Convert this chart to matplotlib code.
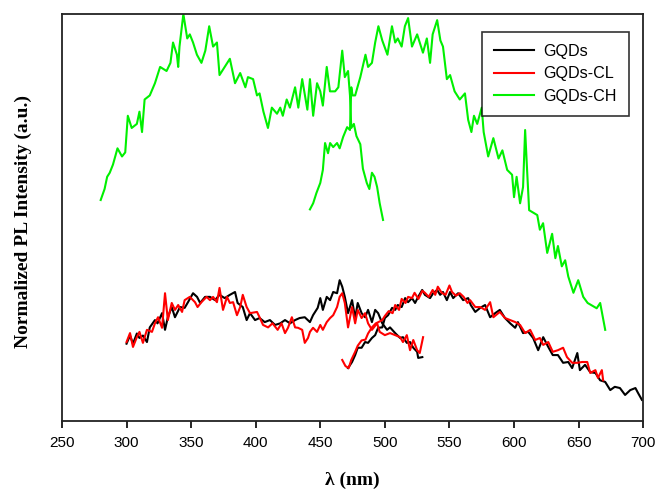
import matplotlib
matplotlib.use("Agg")
import matplotlib.pyplot as plt

# PL spectra, (wavelength nm, normalized intensity)
# each sample has an excitation branch (ex) and an emission branch (em)
gqds_ex = [
    (300, 19), (302.7, 21), (305, 19), (308, 21.5), (310, 20.4), (312.7, 21),
    (315.8, 19.4), (318, 23), (322, 24.8), (324, 24), (327.5, 26.5), (329.8, 22.4),
    (332, 25.5), (335, 28), (337.5, 25.5), (341.4, 28), (345, 27.8), (347.6, 29.2),
    (351.5, 31.4), (354.6, 30.5), (357, 29), (360.8, 30.5), (364.6, 30.5),
    (368.5, 29.7), (372, 31), (376, 30.2), (380, 31), (384, 31.7), (386, 29),
    (390, 28), (393, 24.8), (395.6, 26.5), (399.5, 24.8), (403, 25.3), (407, 24.3),
    (411, 24.8), (415, 23.6), (419, 24), (422.7, 24.8), (426.6, 24), (430.5, 24.8),
    (434, 25.3), (438, 25.5), (442, 24.3), (444.4, 26), (448, 27.8), (450, 30.2),
    (452, 27.3), (455, 30.5), (457.6, 29.7), (460, 31.7), (463, 31.4), (465, 34.6),
    (467, 33), (469, 30.5), (471.5, 26.5), (474.6, 29.7), (477, 25.3), (479, 29),
    (482, 26.5), (484.7, 25.5), (487, 27.3), (490, 24.3), (492.5, 27.3),
    (494.8, 26.5), (498, 24), (501.7, 22.4), (504, 23), (508, 21.6), (511.8, 20.4),
    (514, 20.6), (517, 19.2), (519.5, 19.4), (522, 18), (525, 17), (525.8, 15.5),
    (529, 15.7),
]
gqds_em = [
    (471.5, 13), (474.6, 14.5), (477, 16.2), (479, 18), (482, 18), (484.7, 19.4),
    (487, 19.2), (490, 20.4), (492.5, 21.1), (494.8, 22.9), (498, 23), (500, 25.3),
    (502.5, 26), (505.6, 27.8), (508, 27.3), (510, 28.5), (513, 28), (515.7, 30.2),
    (518, 29.2), (521, 30.2), (523.4, 29), (525.8, 30.5), (528.9, 32.2), (531, 31),
    (535, 30.2), (537.4, 31.4), (540.5, 32.2), (542.8, 31), (545, 31.7), (548, 29.7),
    (550.5, 31.7), (552.9, 30.2), (556.7, 31.4), (560.6, 29.7), (564.5, 30.2),
    (566.5, 28.5), (570, 26.8), (573.8, 27.8), (577.6, 28.5), (581.5, 25.5),
    (585.4, 26.5), (589, 27.3), (593, 25.3), (597, 24), (600.9, 22.9), (603, 24.3),
    (607, 21.6), (611, 21.9), (614.8, 20.4), (618.7, 17.4), (622.6, 20.6),
    (626.5, 18.2), (630, 16.2), (634, 16.2), (638, 14.3), (642, 14.5), (645, 13),
    (649, 16.7), (651, 12.5), (655, 13.8), (659, 12), (663, 11.8), (666.7, 10),
    (670.6, 9.6), (674.5, 7.6), (678, 8.4), (682, 8.1), (686, 6.4), (690, 7.6),
    (694, 8.1), (696, 6.9), (699, 5.2),
]
gqds_cl_ex = [
    (300, 19.4), (302.7, 21.6), (305, 18.2), (308, 20.6), (310, 21.9), (312.7, 19.2),
    (315.8, 22.4), (319.7, 21.9), (322, 24), (324.4, 25.5), (327.5, 22.9),
    (329.8, 31.4), (332, 24.8), (335, 29), (337.5, 27.3), (340, 28.5), (343, 26.8),
    (345, 29.7), (349, 30.5), (353, 29.2), (355, 28), (358, 29.2), (362, 30.5),
    (364.6, 29.7), (367, 30.5), (370, 29.2), (372, 32.7), (374.7, 27.3),
    (377.8, 30.5), (380, 29), (382.5, 29.2), (385.5, 26), (388, 28), (390, 31),
    (393, 28), (395.6, 26.5), (401, 26.8), (403, 25.5), (405.7, 23.6), (409.6, 23),
    (413, 24), (417, 22.4), (420, 24), (422.7, 21.6), (425, 22.9), (428, 25.5),
    (430.5, 23), (432.8, 22.9), (436, 22.4), (438, 19.2), (440.5, 20.4), (442, 21.9),
    (444.4, 22.9), (447.5, 21.9), (450, 23.6), (452, 22.4), (455, 24.3),
    (457.6, 25.3), (460, 26), (463, 28), (465, 30.5), (467, 31.4), (469, 29),
    (471.5, 23), (474.6, 28), (477, 24), (479, 27.3), (482, 25.3), (484.7, 26.5),
    (487, 24), (490, 22.4), (494, 24), (496, 21.9), (500, 21.1), (504, 21.6),
    (508, 21.1), (511.8, 20.6), (514, 19.4), (517, 21.1), (519.5, 17.4), (522, 19.9),
    (525, 17.4), (527, 16.7), (529.6, 20.6),
]
gqds_cl_em = [
    (467, 15), (469.5, 13.5), (472, 13), (474, 15), (477, 17), (479, 18.5),
    (482, 19.8), (485, 20), (487, 21.5), (490, 23), (493, 24), (495, 24.3),
    (498, 24.8), (500, 25.8), (503, 27), (506, 26.5), (508, 28.5), (511, 27.3),
    (513, 30), (516, 29), (518, 30.5), (521, 30.2), (523, 31.5), (526, 30),
    (529, 32), (531, 31.5), (534, 30.5), (537, 32.2), (539, 31), (541, 33),
    (544, 31.5), (547, 31), (550, 33.3), (552, 31.7), (555, 30.8), (558, 31.4),
    (561, 30.5), (564, 29), (566, 29.7), (570, 28), (573.8, 28), (577.6, 27.3),
    (581.5, 29.2), (584, 25.5), (589, 26.8), (593, 25.3), (597, 24.8), (601, 24.3),
    (604.7, 23.6), (608.6, 21.6), (612.5, 22.4), (616.4, 19.9), (620, 20.4),
    (622.6, 18.7), (626.5, 19.4), (630, 17), (634, 17.4), (638, 18), (641, 15.7),
    (645, 14.3), (649, 14.3), (652.8, 14.5), (656.7, 14.5), (659, 11.8),
    (663, 12.5), (665, 10.6), (668, 12.5), (669, 10),
]
gqds_ch_ex = [
    (280, 54.3), (283, 57), (285, 60), (287, 61), (289.5, 63), (293, 67),
    (296.5, 65), (299, 66), (301, 75), (304, 72), (308, 73), (310, 76), (312, 71),
    (314, 79), (318, 80), (322, 83), (326, 87), (331, 86), (334, 88), (336, 93),
    (339, 90), (340, 87), (341, 92), (344, 100), (347, 94), (349, 95), (351.5, 93),
    (354.5, 90), (358, 88), (361, 91), (364, 97), (367, 92), (370, 93), (372, 85),
    (376, 87), (380, 89), (384, 83), (388, 85.5), (392, 82), (394, 84.5), (398, 84),
    (401, 80), (403, 80.5), (406, 76), (409.5, 72), (412.5, 77), (416.5, 75.5),
    (419, 77), (421, 75), (424, 79), (426.5, 77), (430.5, 82), (433, 77), (436, 84),
    (440, 76.5), (442, 84), (444.5, 75), (447.5, 83), (450, 81), (452, 77.5),
    (455, 87), (457.5, 81), (461.5, 81), (464, 82), (467, 91), (469, 84.5),
    (471.5, 86), (473, 80), (474, 72), (476, 73), (478, 70), (481, 68), (483, 62),
    (486, 58.5), (488, 57), (490, 61), (492, 60), (494, 57.5), (496, 53.5),
    (498.6, 49.4),
]
gqds_ch_em = [
    (442, 52), (444.5, 53.5), (447, 56), (450, 58.5), (452, 61.7), (453.7, 68.3),
    (456, 65.8), (457.6, 68.3), (460, 67.3), (463, 68.3), (465, 67), (467.7, 69.8),
    (470.8, 72.2), (473, 71.5), (474, 82), (475, 80), (477, 80), (481, 84.5),
    (485, 90), (487, 87), (490, 88), (492.5, 93), (495, 97), (498, 93.5), (502, 90),
    (505.5, 97), (508, 93), (510, 94), (513, 92), (515.5, 97), (518, 99), (521, 92),
    (525, 95), (527, 93), (529.5, 90.5), (532.5, 94), (535, 88), (537, 95),
    (540.5, 98.5), (543, 93.5), (545, 92), (548, 84), (550.5, 85), (554, 81),
    (558, 79), (562, 80.5), (564.5, 74), (567, 71), (569, 75), (571.5, 73),
    (575, 77), (576.5, 71), (580, 65), (584, 69.5), (588, 64.5), (591, 66.5),
    (594.7, 61.7), (598.5, 60.5), (600, 55), (602, 60), (604.7, 53.5), (607, 57.5),
    (608.6, 71.5), (610, 62.4), (611.7, 51.8), (618, 50.6), (620, 47), (622.5, 48.6),
    (625.7, 41.3), (629.5, 46), (632, 40), (634, 43), (637, 38), (639.6, 39.5),
    (642, 35.5), (646, 31.5), (649.7, 34.6), (653.6, 30.5), (657, 29), (664, 27.7),
    (666.7, 29), (670.6, 22.4),
]

xticks = [250, 300, 350, 400, 450, 500, 550, 600, 650, 700]

series = [
    ("GQDs", "black", [gqds_ex, gqds_em]),
    ("GQDs-CL", "#ff0000", [gqds_cl_ex, gqds_cl_em]),
    ("GQDs-CH", "#00f000", [gqds_ch_ex, gqds_ch_em]),
]

fig = plt.figure(figsize=(6.59, 4.92), dpi=100)
ax = fig.add_axes([0.094, 0.1443, 0.882, 0.8272])

for label, color, parts in series:
    for i, part in enumerate(parts):
        xs, ys = zip(*part)
        ax.plot(xs, ys, color=color, linewidth=1.5,
                label=label if i == 0 else None)

ax.set_xlim(250, 700)
ax.set_ylim(0, 100)
ax.set_xticks(xticks)
ax.set_xticklabels([str(t) for t in xticks], fontfamily="Liberation Sans", fontsize=11)
ax.set_yticks([])
ax.tick_params(axis="x", direction="out", length=5, width=1.2, pad=6)
for sp in ax.spines.values():
    sp.set_linewidth(1.3)
    sp.set_color("#222222")

ax.set_xlabel("λ (nm)", fontfamily="Liberation Serif", fontweight="bold", fontsize=14)
ax.xaxis.set_label_coords(0.5, -0.125)
ax.set_ylabel("Normalized PL Intensity (a.u.)", fontfamily="Liberation Serif",
              fontweight="bold", fontsize=14)
ax.yaxis.set_label_coords(-0.052, 0.489)

# legend box sits near the top right corner, inside the frame
leg = ax.legend(loc="upper right", bbox_to_anchor=(0.976, 0.956),
                prop={"family": "Liberation Sans", "size": 11.6},
                frameon=True, fancybox=False, edgecolor="black",
                handlelength=2.5, handletextpad=0.6, labelspacing=0.45,
                borderpad=0.75, borderaxespad=0.0)
leg.get_frame().set_linewidth(1.2)

fig.savefig("out.png", dpi=100)
